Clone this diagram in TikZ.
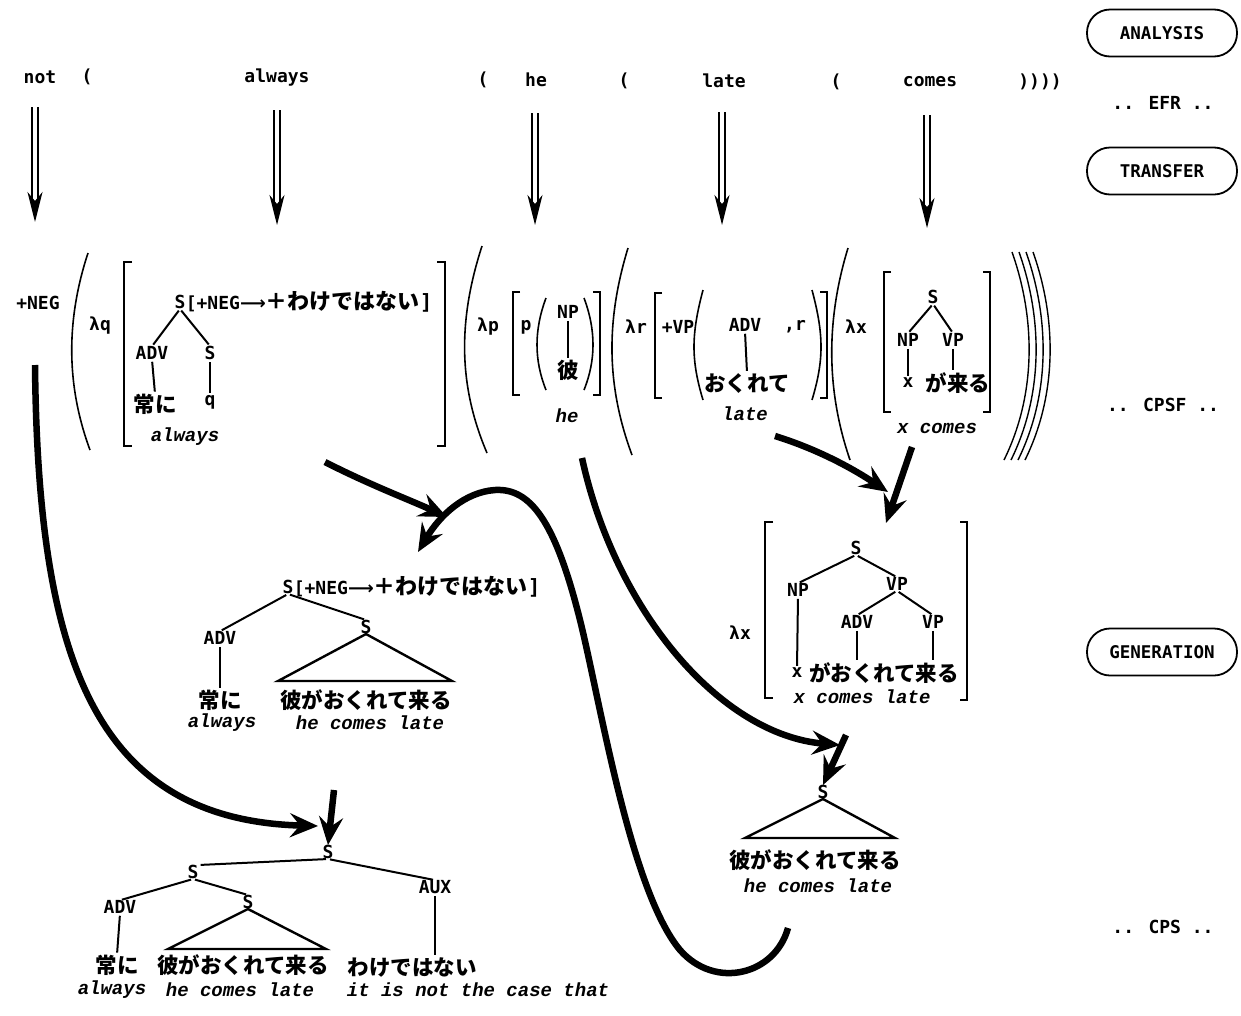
\documentclass[tikz,border=0pt]{standalone}
\usepackage{fontspec}
\usetikzlibrary{arrows.meta}
\newfontfamily\lblfont{DejaVu Sans Mono}
\newfontfamily\symfont{DejaVu Sans}
\newfontfamily\glossfont{Liberation Mono}[BoldItalicFont={Liberation Mono Bold Italic}]
\newfontfamily\jpfont{Noto Sans CJK JP}
% feature annotation [+NEG -> +wakedewanai]
\newcommand\negfeature{{\lblfont\bfseries\fontsize{18}{18}\selectfont [+NEG}{\symfont\bfseries\fontsize{18}{18}\selectfont ⟶}{\jpfont\bfseries\fontsize{22}{22}\selectfont ＋わけではない}{\lblfont\bfseries\fontsize{21}{21}\selectfont ]}}
\begin{document}
\begin{tikzpicture}[x=1pt,y=-1pt,
  lbl/.style={font=\lblfont\bfseries\fontsize{18}{18}\selectfont, inner sep=0pt},
  jpn/.style={font=\jpfont\bfseries\fontsize{21.5}{21.5}\selectfont, inner sep=0pt},
  gl/.style={font=\glossfont\bfseries\itshape\fontsize{19}{19}\selectfont, inner sep=0pt},
  stage/.style={draw, line width=1.8pt, rounded corners=23pt, minimum width=150pt,
    minimum height=47pt, inner sep=0pt, font=\lblfont\bfseries\fontsize{17.5}{17.5}\selectfont},
  br/.style={line width=1.6pt},
  edge/.style={line width=2pt, shorten <=2pt, shorten >=2pt},
  tri/.style={line width=2.4pt},
  xfer/.style={double, double distance=3.2pt, line width=2pt,
    -{Stealth[length=30pt,width=15pt,inset=9pt]}},
  fat/.style={line width=6.5pt, -{Stealth[length=28pt,width=24pt,inset=10pt]}},
]
\useasboundingbox (0,0) rectangle (1241,1015);

% ---------- stage labels on the right ----------
\node[stage] (analysis) at (1162,33) {ANALYSIS};
\node[lbl] (efr) at (1163,103) {.. EFR ..};
\node[stage] (transfer) at (1162,171) {TRANSFER};
\node[lbl] (cpsf) at (1163,405) {.. CPSF ..};
\node[stage] (generation) at (1162,652) {GENERATION};
\node[lbl] (cps) at (1163,927) {.. CPS ..};

% ---------- English functional expression ----------
\node[lbl] (w-not) at (40,77) {not};
\node[lbl] (o-1) at (87,77) {(};
\node[lbl] (w-always) at (277,78) {always};
\node[lbl] (o-2) at (483,80) {(};
\node[lbl] (w-he) at (536,80) {he};
\node[lbl] (o-3) at (624,81) {(};
\node[lbl] (w-late) at (724,81) {late};
\node[lbl] (o-4) at (836,82) {(};
\node[lbl] (w-comes) at (930,82) {comes};
\node[lbl] (c-all) at (1040,82) {))))};

% transfer arrows
\foreach \n/\x/\a/\b in {not/35/107/222, always/277/110/225, he/535/113/225,
                         late/722/112/225, comes/927/115/228}{
  \coordinate (xs-\n) at (\x,\a);
  \coordinate (xe-\n) at (\x,\b);
  \draw[xfer] (xs-\n) -- (xe-\n);
}

% ---------- CPSF: +NEG ----------
\node[lbl] (neg) at (38,303) {+NEG};

% ( lambda q [ ... ]
\draw[br] (88,253) .. controls (66,320) and (66,385) .. (90,450);
\node[lbl] (lq) at (100,326) {λq};
\draw[br] (132,262) -- (124,262) -- (124,446) -- (132,446);
\node[lbl] (t1-s) at (180,302) {S};
\node[anchor=west, inner sep=0pt] (t1-feat) at (t1-s.east) {\negfeature};
\node[lbl] (t1-adv) at (152,353) {ADV};
\node[lbl] (t1-s2) at (210,353) {S};
\node[jpn] (t1-tsune) at (155,404) {常に};
\node[lbl] (t1-q) at (210,402) {q};
\node[gl] (t1-gl) at (185,437) {always};
\draw[edge] (t1-s.south) -- (t1-adv.north);
\draw[edge] (t1-s.south) -- (t1-s2.north);
\draw[edge] (t1-adv.south) -- (t1-tsune.north);
\draw[edge] (t1-s2.south) -- (t1-q.north);
\draw[br] (437,262) -- (445,262) -- (445,446) -- (437,446);

% ( lambda p [ p ( NP / kare ) ]
\draw[br] (482,246) .. controls (458,320) and (458,385) .. (487,453);
\node[lbl] (lp) at (488,327) {λp};
\draw[br] (520,292) -- (513,292) -- (513,395) -- (520,395);
\node[lbl] (t2-p) at (526,327) {p};
\draw[br] (546,298) .. controls (534,330) and (534,360) .. (546,390);
\node[lbl] (t2-np) at (568,312) {NP};
\node[jpn] (t2-kare) at (568,370) {彼};
\draw[edge] (t2-np.south) -- (t2-kare.north);
\draw[br] (584,298) .. controls (596,330) and (596,360) .. (584,390);
\draw[br] (593,292) -- (600,292) -- (600,395) -- (593,395);
\node[gl] (t2-gl) at (567,416) {he};

% ( lambda r [ +VP ( ADV / okurete , r ) ] ]
\draw[br] (628,248) .. controls (606,320) and (606,385) .. (632,455);
\node[lbl] (lr) at (636,327) {λr};
\draw[br] (662,293) -- (655,293) -- (655,398) -- (662,398);
\node[lbl] (t3-vp) at (678,327) {+VP};
\draw[br] (703,290) .. controls (691,335) and (691,360) .. (703,400);
\node[lbl] (t3-adv) at (745,325) {ADV};
\node[jpn] (t3-okurete) at (747,383) {おくれて};
\draw[edge] (t3-adv.south) -- (t3-okurete.north);
\node[lbl] (t3-r) at (795,327) {,r};
\draw[br] (812,290) .. controls (824,335) and (824,360) .. (812,400);
\draw[br] (820,292) -- (827,292) -- (827,398) -- (820,398);
\node[gl] (t3-gl) at (745,414) {late};

% ( lambda x [ S -> NP VP ]
\draw[br] (848,248) .. controls (826,320) and (826,390) .. (850,460);
\node[lbl] (lx) at (856,327) {λx};
\draw[br] (891,272) -- (884,272) -- (884,412) -- (891,412);
\node[lbl] (t4-s) at (933,297) {S};
\node[lbl] (t4-np) at (908,340) {NP};
\node[lbl] (t4-vp) at (953,340) {VP};
\node[lbl] (t4-x) at (908,383) {x};
\node[jpn] (t4-kuru) at (958,383) {が来る};
\draw[edge] (t4-s.south) -- (t4-np.north);
\draw[edge] (t4-s.south) -- (t4-vp.north);
\draw[edge] (t4-np.south) -- (t4-x.north);
\draw[edge] (t4-vp.south) -- (t4-vp.south |- t4-kuru.north);
\draw[br] (983,272) -- (990,272) -- (990,412) -- (983,412);
\node[gl] (t4-gl) at (937,428) {x comes};

% closing parentheses
\foreach \d in {0,7,14,21}{
  \draw[line width=1.4pt] (1012+\d,252) .. controls (1036+\d,320) and (1036+\d,395) .. (1004+\d,460);
}

% ---------- GENERATION: lambda x [ S -> NP VP(ADV VP) ] ----------
\node[lbl] (g1-lx) at (740,633) {λx};
\draw[br] (773,522) -- (765,522) -- (765,698) -- (773,698);
\node[lbl] (g1-s) at (856,548) {S};
\node[lbl] (g1-np) at (798,590) {NP};
\node[lbl] (g1-vp) at (897,584) {VP};
\node[lbl] (g1-adv) at (857,622) {ADV};
\node[lbl] (g1-vp2) at (933,622) {VP};
\node[lbl] (g1-x) at (797,673) {x};
\node[jpn] (g1-jp) at (884,673) {がおくれて来る};
\node[gl] (g1-gl) at (862,697) {x comes late};
\draw[edge] (g1-s.south) -- (g1-np.north);
\draw[edge] (g1-s.south) -- (g1-vp.north);
\draw[edge] (g1-vp.south) -- (g1-adv.north);
\draw[edge] (g1-vp.south) -- (g1-vp2.north);
\draw[edge] (g1-np.south) -- (g1-x.north);
\draw[edge] (g1-adv.south) -- (g1-adv.south |- g1-jp.north);
\draw[edge] (g1-vp2.south) -- (g1-vp2.south |- g1-jp.north);
\draw[br] (960,522) -- (967,522) -- (967,700) -- (960,700);

% ---------- GENERATION: S[+NEG -> ...] ----------
\node[lbl] (g2-s) at (288,587) {S};
\node[anchor=west, inner sep=0pt] (g2-feat) at (g2-s.east) {\negfeature};
\node[lbl] (g2-adv) at (220,638) {ADV};
\node[lbl] (g2-s2) at (366,627) {S};
\node[jpn] (g2-tsune) at (220,700) {常に};
\node[jpn] (g2-jp) at (366,700) {彼がおくれて来る};
\node[gl] (g2-gl1) at (222,723) {always};
\node[gl] (g2-gl2) at (370,723) {he comes late};
\draw[edge] (g2-s.south) -- (g2-adv.north);
\draw[edge] (g2-s.south) -- (g2-s2.north);
\draw[edge] (g2-adv.south) -- (g2-tsune.north);
\draw[tri] (g2-s2.south) -- (278,681) -- (452,681) -- cycle;

% ---------- GENERATION: S -> he comes late ----------
\node[lbl] (g3-s) at (823,792) {S};
\draw[tri] (g3-s.south) -- (745,838) -- (895,838) -- cycle;
\node[jpn] (g3-jp) at (815,860) {彼がおくれて来る};
\node[gl] (g3-gl) at (818,886) {he comes late};

% ---------- CPS: final tree ----------
\node[lbl] (f-s) at (328,852) {S};
\node[lbl] (f-s1) at (193,872) {S};
\node[lbl] (f-aux) at (435,887) {AUX};
\node[lbl] (f-adv) at (120,907) {ADV};
\node[lbl] (f-s2) at (248,902) {S};
\node[jpn] (f-tsune) at (117,965) {常に};
\node[jpn] (f-jp) at (243,965) {彼がおくれて来る};
\node[jpn] (f-wake) at (412,967) {わけではない};
\node[gl] (f-gl1) at (112,990) {always};
\node[gl] (f-gl2) at (240,990) {he comes late};
\node[gl] (f-gl3) at (478,990) {it is not the case that};
\draw[edge] (f-s.south) -- (f-s1.north east);
\draw[edge] (f-s.south) -- (f-aux.north);
\draw[edge] (f-s1.south) -- (f-adv.north);
\draw[edge] (f-s1.south) -- (f-s2.north);
\draw[edge] (f-adv.south) -- (f-tsune.north);
\draw[edge] (f-aux.south) -- (f-aux.south |- f-wake.north);
\draw[tri] (f-s2.south) -- (168,949) -- (326,949) -- cycle;

% ---------- thick composition arrows ----------
\coordinate (a1-from) at (35,365);
\coordinate (a1-to) at (318,826);
\draw[fat] (a1-from) .. controls (38,650) and (90,820) .. (a1-to);
\coordinate (a1b-from) at (334,790);
\draw[fat] (a1b-from) -- (f-s.north);

\coordinate (a2-from) at (325,462);
\coordinate (a2-to) at (447,517);
\draw[fat] (a2-from) .. controls (370,485) and (410,500) .. (a2-to);

\coordinate (a3-from) at (788,928);
\coordinate (a3-to) at (418,552);
\draw[fat] (a3-from) .. controls (775,975) and (715,990) .. (680,950)
  .. controls (630,890) and (600,700) .. (580,620)
  .. controls (555,520) and (530,488) .. (495,490)
  .. controls (465,492) and (440,515) .. (a3-to);

\coordinate (a4-from) at (582,458);
\coordinate (a4-to) at (840,745);
\draw[fat] (a4-from) .. controls (615,610) and (720,735) .. (a4-to);
\coordinate (a4b-from) at (846,735);
\draw[fat] (a4b-from) -- (g3-s.north);

\coordinate (a5-from) at (775,436);
\coordinate (a5-to) at (888,492);
\draw[fat] (a5-from) .. controls (820,450) and (855,470) .. (a5-to);
\coordinate (a5b-from) at (912,447);
\draw[fat] (a5b-from) -- (886,523);
\end{tikzpicture}
\end{document}
